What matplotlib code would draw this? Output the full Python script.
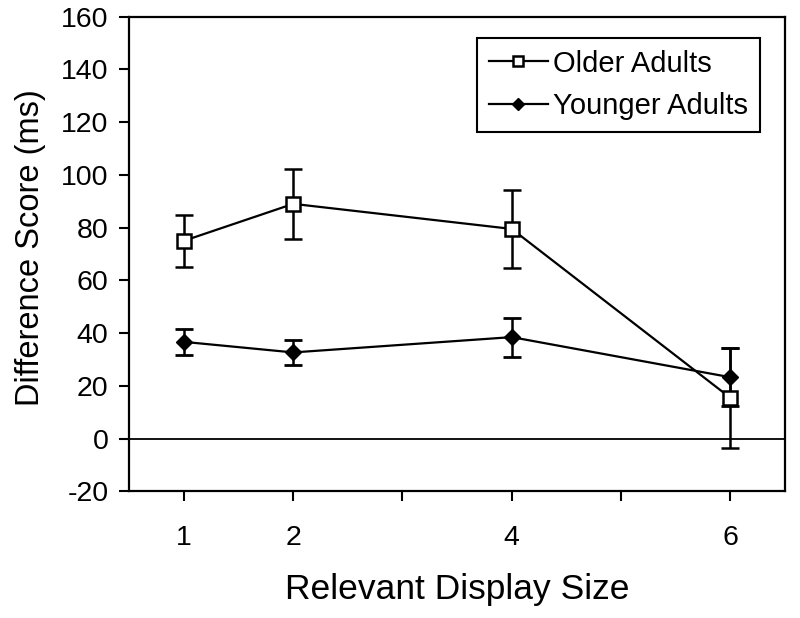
import matplotlib
matplotlib.use("Agg")
import matplotlib.pyplot as plt

plt.rcParams['font.family'] = ['Liberation Sans', 'DejaVu Sans']
plt.rcParams['axes.unicode_minus'] = False

display_size = [1, 2, 4, 6]
older_mean = [75, 89, 79.5, 15.5]
older_err = [9.8, 13.2, 14.7, 19.0]
younger_mean = [36.7, 32.7, 38.5, 23.3]
younger_err = [5.0, 4.8, 7.4, 11.0]
x_ticks = [1, 2, 3, 4, 5, 6]
x_tick_labels = ['1', '2', '', '4', '', '6']
y_ticks = [-20, 0, 20, 40, 60, 80, 100, 120, 140, 160]

fig = plt.figure(figsize=(8, 6.18), dpi=100)
ax = fig.add_axes([0.1616, 0.2047, 0.9812 - 0.1616, 0.9733 - 0.2047])

ax.axhline(0, color='black', lw=1.3, zorder=1)

ax.errorbar(display_size, older_mean, yerr=older_err, color='black', lw=1.6,
            marker='s', markersize=9.5, markerfacecolor='white',
            markeredgecolor='black', markeredgewidth=1.8,
            capsize=6.5, capthick=2.0, elinewidth=1.8, label='Older Adults', zorder=3)
ax.errorbar(display_size, younger_mean, yerr=younger_err, color='black', lw=1.6,
            marker='D', markersize=8, markerfacecolor='black',
            markeredgecolor='black',
            capsize=6.5, capthick=2.0, elinewidth=1.8, label='Younger Adults', zorder=3)

ax.set_xlim(0.5, 6.5)
ax.set_ylim(-20, 160)
ax.set_xticks(x_ticks)
ax.set_xticklabels(x_tick_labels)
ax.set_yticks(y_ticks)
ax.tick_params(axis='both', direction='out', length=7, width=1.5, labelsize=20.5, colors='black')
ax.tick_params(axis='x', pad=17)
ax.tick_params(axis='y', pad=8)
for s in ax.spines.values():
    s.set_linewidth(1.6)
    s.set_color('black')

ax.set_xlabel('Relevant Display Size', fontsize=25.5, labelpad=16)
ax.set_ylabel('Difference Score (ms)', fontsize=23.5)
ax.yaxis.set_label_coords(-0.127, 0.514)

handles, labels = ax.get_legend_handles_labels()
handles = [h[0] for h in handles]
leg = ax.legend(handles, labels, loc='upper right', bbox_to_anchor=(0.95, 0.9385),
                bbox_transform=fig.transFigure, fontsize=21, frameon=True,
                fancybox=False, edgecolor='black', framealpha=1,
                handlelength=2.0, handletextpad=0.2, borderpad=0.4,
                labelspacing=0.5, borderaxespad=0, markerscale=0.75)
leg.get_frame().set_linewidth(1.5)

fig.savefig('out.png', dpi=100)
